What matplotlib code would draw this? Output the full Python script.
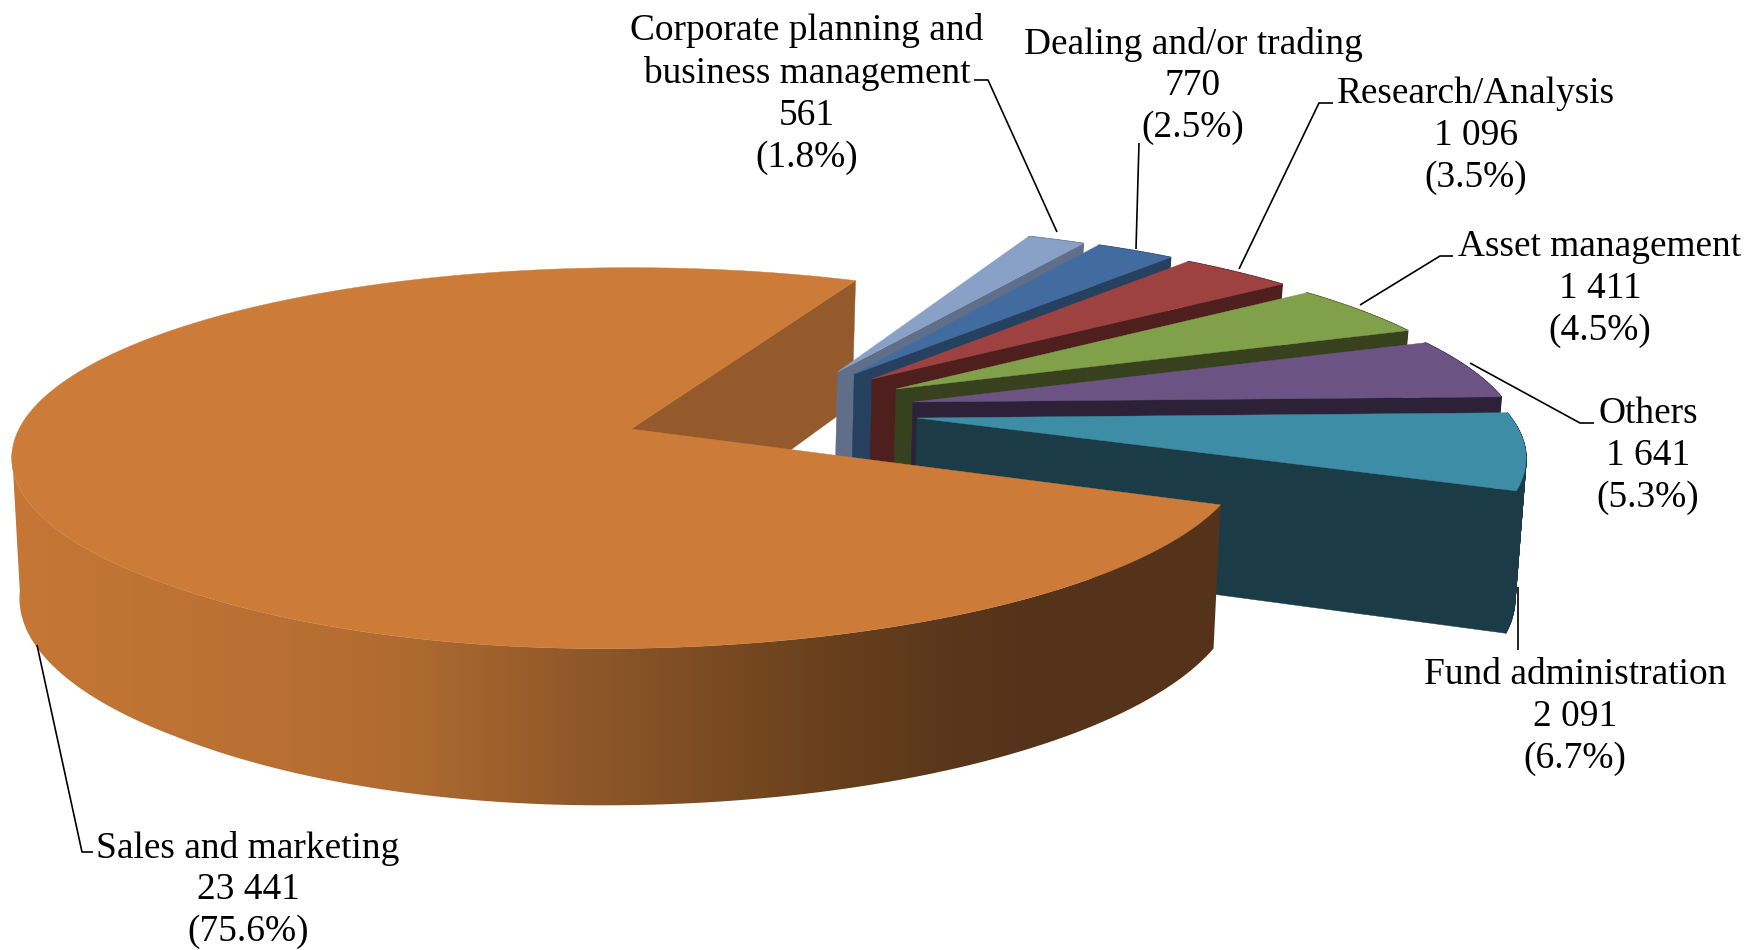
import numpy as np
import matplotlib
matplotlib.use("Agg")
import matplotlib.pyplot as plt
from matplotlib.patches import Polygon
from matplotlib.colors import to_rgb, LinearSegmentedColormap

# ---- data ----
names = ["Corporate planning and\nbusiness management", "Dealing and/or trading",
         "Research/Analysis", "Asset management", "Others",
         "Fund administration", "Sales and marketing"]
values = [561, 770, 1096, 1411, 1641, 2091, 23441]
value_labels = ["561", "770", "1 096", "1 411", "1 641", "2 091", "23 441"]
pct_labels = ["1.8%", "2.5%", "3.5%", "4.5%", "5.3%", "6.7%", "75.6%"]

# ---- styles ----
top_colors = ["#8AA1C7", "#426C9F", "#9E4241", "#81A04A", "#6B5384", "#3D8DA6", "#CC7C38"]
wall_colors = ["#5F6E89", "#25415F", "#4F1F1E", "#38411E", "#2C2137", "#1B3C47", "#55331A"]
inner_face = "#955A2B"
grad_x = [10, 100, 350, 420, 600, 820, 950, 1030, 1230]
grad_c = ["#C67735", "#C17534", "#B56D31", "#AC6930", "#8C5628", "#6A401D", "#5A371B", "#55331A", "#55331A"]

# explosion of each slice in pie-plane units, and slice radius
explode_u = [.354, .382, .4107, .4478, .4712, .4716, 0]
explode_v = [.3215, .3097, .2803, .2224, .1484, .0597, 0]
radius = [1, 1, 1, .998, .99, .98, 1]
start_deg = 24.7

# projection
CX, CY, A, B, K = 631, 429, 612, 186, .153
CY2, B2, K2, S2 = 566, 202, .156, .987


def warp(u, v):
    """Small horizontal lean of the front half of the big slice."""
    return -28 * np.clip(-v, 0, 1) * np.clip(1 + 1.5 * u, 0, 1)


def top(u, v, lean=False):
    w = 1 + K * v
    d = warp(u, v) if lean else 0
    return np.column_stack([CX + A * u / w + d, CY - B * v / w])


def bot(u, v, lean=False):
    w = 1 + K2 * v
    d = warp(u, v) if lean else 0
    return np.column_stack([CX + S2 * A * u / w + d, CY2 - B2 * v / w])


def rim(a0, a1, ou, ov, r=1, n=80):
    t = np.radians(np.linspace(a0, a1, n))
    return r * np.sin(t) + ou, r * np.cos(t) + ov


def strip_wall(ax, a0, a1, ou, ov, r, col, z):
    ru, rv = rim(a0, a1, ou, ov, r, 40)
    T, Bt = top(ru, rv), bot(ru, rv)
    for j in range(len(ru) - 1):
        ax.add_patch(Polygon(np.vstack([T[j], T[j + 1], Bt[j + 1], Bt[j]]), fc=col, ec=col, lw=1.0, zorder=z))


fig = plt.figure(figsize=(17.6, 9.5), dpi=100)
ax = fig.add_axes([0, 0, 1, 1])
ax.set_xlim(0, 1760)
ax.set_ylim(950, 0)
ax.axis("off")

sweeps = np.array(values) / sum(values) * 360
starts = start_deg + np.concatenate([[0], np.cumsum(sweeps)[:-1]])
z = 2

# inner face of the big slice lies behind every exploded slice
big = len(values) - 1
e = rim(starts[big] + sweeps[big], starts[big] + sweeps[big], 0, 0, 1, 1)
o = np.array([0.0]), np.array([0.0])
ax.add_patch(Polygon(np.vstack([top(*o), top(*e), bot(*e), bot(*o)]), fc=inner_face, ec=inner_face, lw=.3, zorder=z))
z += 1

for i in range(len(values)):
    a0, a1 = starts[i], starts[i] + sweeps[i]
    ou, ov, r = explode_u[i], explode_v[i], radius[i]
    c = np.array([ou]), np.array([ov])
    if i == big:
        # shaded outer wall: a horizontal gradient clipped to the wall outline
        ru, rv = rim(a0, 263, ou, ov, r, 400)
        outline = np.vstack([top(ru, rv, True), bot(ru, rv, True)[::-1]])
        clip = Polygon(outline, transform=ax.transData, fc="none", ec="none")
        ax.add_patch(clip)
        cmap = LinearSegmentedColormap.from_list(
            "wall", [((x - grad_x[0]) / (grad_x[-1] - grad_x[0]), to_rgb(h)) for x, h in zip(grad_x, grad_c)])
        im = ax.imshow(np.linspace(0, 1, 1024)[None, :], cmap=cmap, aspect="auto", vmin=0, vmax=1,
                       extent=(grad_x[0], grad_x[-1], 950, 0), zorder=z, interpolation="bilinear")
        im.set_clip_path(clip)
        ax.set_xlim(0, 1760)
        ax.set_ylim(950, 0)
        z += 1
    else:
        # radial wall at the closing edge
        e = rim(a1, a1, ou, ov, r, 1)
        pts = np.vstack([top(*c), top(*e), bot(*e), bot(*c)])
        ax.add_patch(Polygon(pts, fc=wall_colors[i], ec=wall_colors[i], lw=.3, zorder=z))
        z += 1
        strip_wall(ax, a0, a1, ou, ov, r, wall_colors[i], z)
        z += 1
    ru, rv = rim(a0, a1, ou, ov, r, 400)
    pts = np.vstack([top(*c), top(ru, rv, i == big)])
    ax.add_patch(Polygon(pts, fc=top_colors[i], ec=top_colors[i], lw=.3, zorder=z))
    z += 1

# ---- labels and leader lines ----
label_xy = [(807, 94), (1193, 86), (1476, 136), (1600, 289), (1648, 456), (1575, 717), (248, 890)]
leaders = [
    [(974, 80), (988, 80), (1057, 232)],
    [(1139, 143), (1136, 249)],
    [(1333, 103), (1319, 103), (1239, 269)],
    [(1453, 256), (1440, 256), (1360, 305)],
    [(1594, 423), (1580, 423), (1470, 363)],
    [(1518, 587), (1518, 650)],
    [(37, 645), (82, 852), (93, 852)],
]
for n, v, p, xy, l in zip(names, value_labels, pct_labels, label_xy, leaders):
    ax.text(xy[0], xy[1], f"{n}\n{v}\n({p})", ha="center", va="center", multialignment="center",
            family="Liberation Serif", fontsize=26.9, color="black", linespacing=1.28, zorder=100)
    l = np.array(l)
    ax.plot(l[:, 0], l[:, 1], color="black", lw=1.2, zorder=101, solid_capstyle="butt")

fig.savefig("out.png", dpi=100, facecolor="white")
